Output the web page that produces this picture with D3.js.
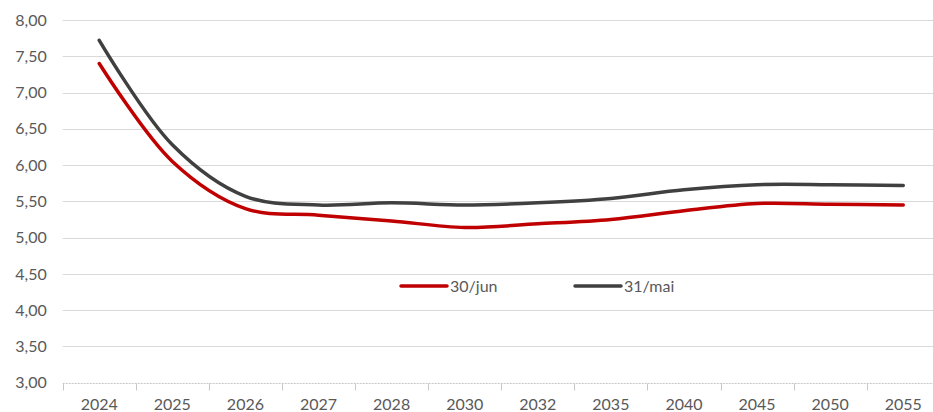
<!DOCTYPE html>
<html>
<head>
<meta charset="utf-8">
<script src="https://cdn.jsdelivr.net/npm/d3@7"></script>
<style>
  html, body { margin: 0; padding: 0; background: #fff; }
  svg { display: block; }
  text { font-family: Lato, "Open Sans", sans-serif; fill: #595959; }
</style>
</head>
<body>
<svg id="chart" width="933" height="412"></svg>
<script>
// Curve of rates by maturity year, two reference dates
const years = ["2024","2025","2026","2027","2028","2030","2032","2035","2040","2045","2050","2055"];
const jun30 = [7.40, 6.05, 5.40, 5.31, 5.23, 5.14, 5.19, 5.25, 5.37, 5.47, 5.46, 5.45];
const mai31 = [7.72, 6.28, 5.57, 5.45, 5.48, 5.45, 5.48, 5.54, 5.66, 5.73, 5.73, 5.72];
const seriesNames = ["30/jun", "31/mai"];
const seriesColors = ["#c00000", "#404040"];
const yTicks = [3.0, 3.5, 4.0, 4.5, 5.0, 5.5, 6.0, 6.5, 7.0, 7.5, 8.0];

const svg = d3.select("#chart");
const plotLeft = 62.7, plotRight = 939.8, plotTop = 20, plotBottom = 382.7;

const x = d3.scaleBand().domain(years).range([plotLeft, plotRight]);
const y = d3.scaleLinear().domain([3, 8]).range([plotBottom, plotTop]);
const fmt = v => d3.format(".2f")(v).replace(".", ",");

// Horizontal gridlines
svg.append("g")
  .selectAll("line")
  .data(yTicks.filter(v => v > 3))
  .join("line")
  .attr("x1", plotLeft).attr("x2", 933)
  .attr("y1", d => Math.round(y(d)) + 0.5)
  .attr("y2", d => Math.round(y(d)) + 0.5)
  .attr("stroke", "#d9d9d9")
  .attr("stroke-width", 1);

// Y axis labels
const yAxis = d3.axisLeft(y).tickValues(yTicks).tickFormat(fmt).tickSize(0).tickPadding(16);
const gy = svg.append("g").attr("transform", `translate(${plotLeft},0)`).call(yAxis);
gy.select(".domain").remove();
gy.selectAll("text").style("font-size", "16px").attr("fill", "#595959")
  .style("font-family", "Lato, sans-serif");

// X axis with category separators
const gx = svg.append("g").attr("transform", `translate(0,${Math.round(plotBottom) + 0.5})`);
gx.append("line").attr("x1", plotLeft).attr("x2", 933).attr("stroke", "#c8c8c8")
  .attr("stroke-dasharray", "2,1");
gx.selectAll("line.tick")
  .data(years)
  .join("line")
  .attr("class", "tick")
  .attr("x1", d => Math.round(x(d)) + 0.5).attr("x2", d => Math.round(x(d)) + 0.5)
  .attr("y1", 0).attr("y2", 7)
  .attr("stroke", "#c8c8c8");
gx.selectAll("text")
  .data(years)
  .join("text")
  .attr("x", d => x(d) + x.bandwidth() / 2)
  .attr("y", 26.5)
  .attr("text-anchor", "middle")
  .style("font-size", "16px")
  .text(d => d);

// Series lines
const line = d3.line()
  .x((d, i) => x(years[i]) + x.bandwidth() / 2)
  .y(d => y(d))
  .curve(d3.curveCatmullRom.alpha(0.5));

[jun30, mai31].forEach((vals, k) => {
  svg.append("path")
    .datum(vals)
    .attr("d", line)
    .attr("fill", "none")
    .attr("stroke", seriesColors[k])
    .attr("stroke-width", 3.5)
    .attr("stroke-linecap", "round")
    .attr("stroke-linejoin", "round");
});

// Legend
const legendX = [401, 575];
const legend = svg.append("g");
seriesNames.forEach((name, k) => {
  legend.append("line")
    .attr("x1", legendX[k]).attr("x2", legendX[k] + 46)
    .attr("y1", 286).attr("y2", 286)
    .attr("stroke", seriesColors[k])
    .attr("stroke-width", 3.5)
    .attr("stroke-linecap", "round");
  legend.append("text")
    .attr("x", legendX[k] + 49)
    .attr("y", 292)
    .style("font-size", "16px")
    .text(name);
});
</script>
</body>
</html>
